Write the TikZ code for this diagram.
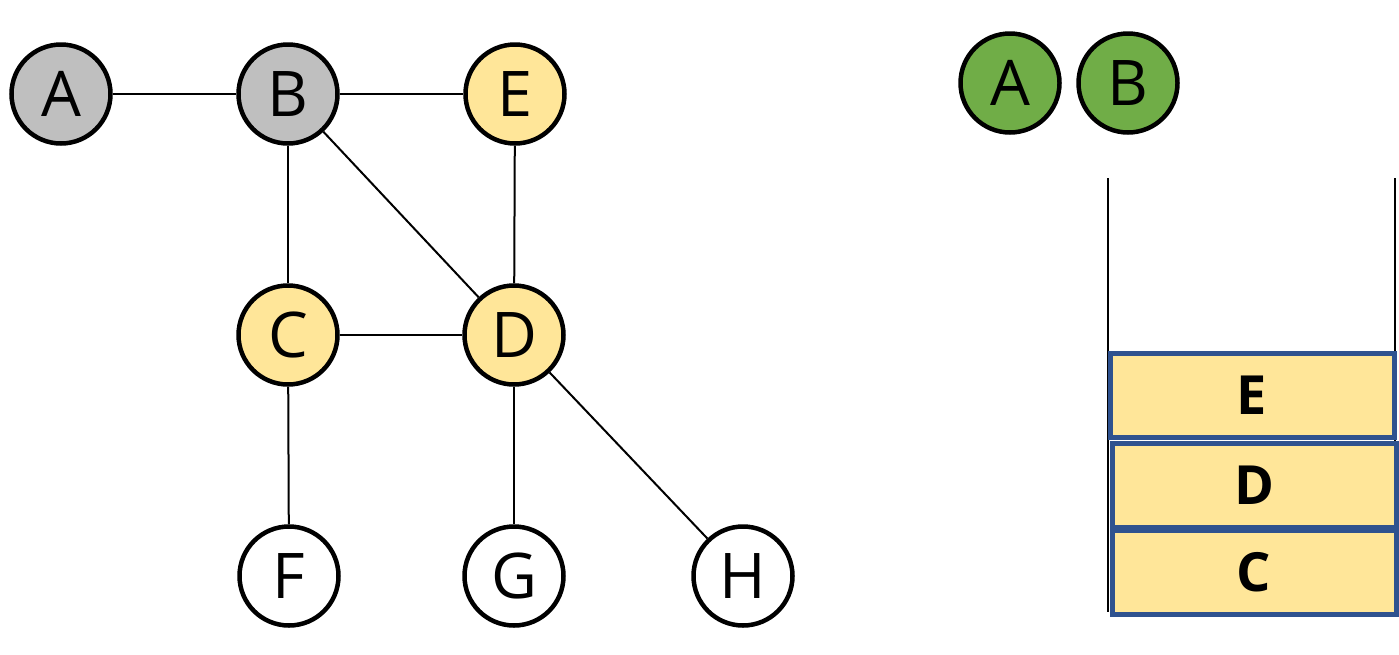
\documentclass[tikz,border=0pt]{standalone}
\usepackage{fontspec}
\setmainfont{Open Sans}
\definecolor{greyfill}{HTML}{BFBFBF}
\definecolor{yellowfill}{HTML}{FFE699}
\definecolor{greenfill}{HTML}{70AD47}
\definecolor{boxblue}{HTML}{2F528F}
\begin{document}
\begin{tikzpicture}[x=1pt,y=-1pt,
  vert/.style={circle,draw=black,line width=4.5pt,minimum size=99pt,inner sep=0pt,font=\fontsize{63}{63}\selectfont},
  greyv/.style={vert,fill=greyfill},
  yellowv/.style={vert,fill=yellowfill},
  whitev/.style={vert,fill=white},
  greenv/.style={vert,fill=greenfill},
  edge/.style={line width=2pt,draw=black},
  stackbox/.style={rectangle,draw=boxblue,fill=yellowfill,line width=5pt,minimum width=284pt,minimum height=84pt,inner sep=0pt,font=\fontsize{54}{54}\selectfont\bfseries},
  wall/.style={line width=2pt,draw=black}]
\useasboundingbox (0,0) rectangle (1399,654);
% graph
\node[greyv] (A) at (61,94) {A};
\node[greyv] (B) at (288,94) {B};
\node[yellowv] (E) at (515,94) {E};
\node[yellowv] (C) at (288,335) {C};
\node[yellowv] (D) at (514,335) {D};
\node[whitev] (F) at (289,576) {F};
\node[whitev] (G) at (514,576) {G};
\node[whitev] (H) at (743,576) {H};
\draw[edge] (A) -- (B);
\draw[edge] (B) -- (E);
\draw[edge] (B) -- (C);
\draw[edge] (B) -- (D);
\draw[edge] (E) -- (D);
\draw[edge] (C) -- (D);
\draw[edge] (C) -- (F);
\draw[edge] (D) -- (G);
\draw[edge] (D) -- (H);
% visited
\node[greenv] (vA) at (1010,83) {A};
\node[greenv] (vB) at (1128,83) {B};
% stack walls
\coordinate (lt) at (1108,178);
\coordinate (lb) at (1108,612);
\coordinate (rt) at (1395,178);
\coordinate (rb) at (1395,612);
\draw[wall] (lt) -- (lb);
\draw[wall] (rt) -- (rb);
% stack boxes
\node[stackbox] (sE) at (1252,395) {E};
\node[stackbox] (sD) at (1254,485) {D};
\node[stackbox] (sC) at (1254,572) {C};
\end{tikzpicture}
\end{document}
